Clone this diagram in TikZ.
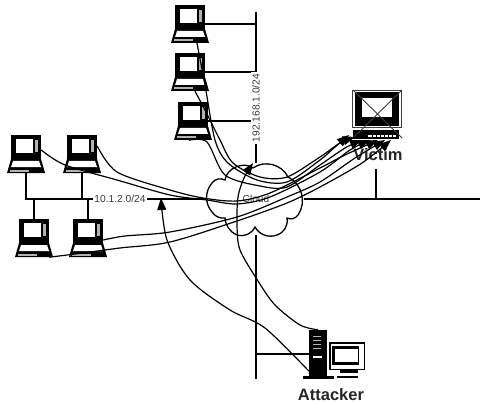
\documentclass[tikz,border=0pt]{standalone}
\usepackage{fontspec}
\setmainfont{Liberation Sans}
\usetikzlibrary{arrows.meta, calc}
\definecolor{dgray}{RGB}{60,60,60}

\tikzset{
  pics/laptop/.style={code={
    \fill[black] (-15,-19) rectangle (15,6);
    \fill[white] (-10,-15) rectangle (7,-1);
    \fill[gray!60] (9,-14) rectangle (12,-2);
    \fill[black] (-15,5) -- (15,5) -- (19,19) -- (-19,19) -- cycle;
    \fill[white] (-13,7) -- (13,7) -- (15,13) -- (-15,13) -- cycle;
    \fill[gray!60] (-16,15.5) rectangle (3,17.5);
  }}
}

\begin{document}
\begin{tikzpicture}[
  x=1pt, y=-1pt,
  pcbox/.style={minimum width=30pt, minimum height=38pt, inner sep=0pt},
  link/.style={line width=1.3pt, black},
  flow/.style={line width=1.2pt, black, -{Triangle[length=12pt,width=9pt]}},
  netlab/.style={fill=white, inner sep=1.5pt, font=\fontsize{10.2}{11}\selectfont, text=dgray},
  hostlab/.style={font=\fontsize{16.5}{17}\selectfont\bfseries, text=black!85}
]
\useasboundingbox (0,0) rectangle (480,404);

% hosts
\foreach \name/\x/\y in {top1/190/24, top2/190/72, top3/193/121,
                         lap1/26/154, lap2/82/154, lap3/34/238, lap4/88/238}{
  \node[pcbox] (\name) at (\x,\y) {};
  \pic at (\name) {laptop};
}
\node[minimum width=50pt, minimum height=50pt, inner sep=0pt] (victim) at (377,114) {};
\node[minimum width=18pt, minimum height=48pt, inner sep=0pt] (attacker) at (318,354) {};
\node[minimum width=96pt, minimum height=72pt, inner sep=0pt] (cloud) at (256,199) {};

% wires
\coordinate (topend) at (256,12);
\coordinate (rightend) at (480,199);
\coordinate (vtap) at (376,169);
\coordinate (botend) at (256,379);
\draw[link] (topend) -- (cloud.north);
\foreach \name in {top1,top2,top3}{
  \draw[link] (\name.east) -- (\name.east -| cloud.north);
}
\foreach \name in {lap1,lap2}{
  \draw[link] (\name.south) |- (cloud.west);
}
\foreach \name in {lap3,lap4}{
  \draw[link] (\name.north) |- (cloud.west);
}
\draw[link] (cloud.east) -- (rightend);
\draw[link] (vtap) -- (vtap |- cloud.east);
\draw[link] (cloud.south) -- (botend);
\draw[link] (attacker.west) -- (attacker.west -| cloud.south);

% cloud outline
\draw[link] (212,183) to[bend left=40] (225,180) to[bend left=60] (253,168)
  to[bend left=50] (288,177) to[bend left=50] (298,215) to[bend left=40] (287,218)
  to[bend left=40] (277,235) to[bend left=40] (255,227) to[bend left=40] (237,235)
  to[bend left=30] (225,218) to[bend left=30] (212,212) to[bend left=40] cycle;
\node[font=\fontsize{10.2}{11}\selectfont, text=dgray, inner sep=0pt] (cloudtxt) at (256,199) {Cloud};

\node[netlab, rotate=90] (topnet) at (256,108) {192.168.1.0/24};
\node[netlab] (leftnet) at (120,199) {10.1.2.0/24};

% victim
\fill[black] (355,92) rectangle (399,126);
\draw[dgray, line width=0.7pt] (352,90) rectangle (401,127);
\fill[white] (362,98) rectangle (392,117);
\fill[black] (353,130) rectangle (399,139);
\fill[white] (368,135) rectangle (396,137);
\foreach \x in {372,376,...,392}{ \fill[black] (\x,135) rectangle ++(1,2); }
\coordinate (va) at (353,90);
\coordinate (vb) at (402,138);
\coordinate (vc) at (402,90);
\coordinate (vd) at (353,138);
\draw[dgray, line width=0.9pt] (va) -- (vb) (vc) -- (vd);
\node[hostlab] (vlab) at (378,155) {Victim};

% attacker
\fill[black] (309,330) rectangle (327,378);
\fill[black] (303,376) rectangle (334,379);
\fill[white] (313,356) rectangle (322,358);
\foreach \y in {336,340,344,348}{ \fill[gray!60] (313,\y) rectangle ++(8,1); }
\fill[black] (329,342) rectangle (365,370);
\fill[white] (330.5,343.5) rectangle (363.5,368.5);
\fill[black] (332,346) rectangle (359,365);
\fill[white] (335,349) rectangle (358,362);
\fill[black] (340,370) rectangle (358,373);
\fill[black] (337,376) rectangle (358,378);
\node[hostlab] (alab) at (331,395) {Attacker};

% traffic
\draw[flow] plot[smooth, tension=0.5] coordinates {
  ([xshift=7pt]top1.south) (205,85) (215,140) (228,163) (257,180) (287,182) (320,160) (335,147) (349,135)};
\draw[flow] plot[smooth, tension=0.5] coordinates {
  ([xshift=5pt]top2.south) (205,110) (220,140) (233,163) (260,177) (287,177) (320,157) (340,143) (355,137)};
\draw[flow] plot[smooth, tension=0.5] coordinates {
  ([xshift=-4pt]top3.south) (207,142) (225,175) (260,186) (287,187) (320,165) (345,148) (362,140)};
\draw[flow] plot[smooth, tension=0.5] coordinates {
  ([yshift=4pt]lap1.east) (65,165) (117,180) (170,195) (207,200) (237,204) (270,197) (320,172) (350,150) (370,140)};
\draw[flow] plot[smooth, tension=0.5] coordinates {
  ([yshift=8pt]lap2.east) (117,172) (170,190) (203,198) (237,201) (270,193) (320,168) (345,155) (378,140)};
\draw[flow] plot[smooth, tension=0.5] coordinates {
  ([yshift=-2pt]lap4.east) (125,236) (170,232) (237,217) (287,197) (320,182) (355,158) (385,140)};
\draw[flow] plot[smooth, tension=0.5] coordinates {
  (lap3.south east) (75,254) (120,248) (170,242) (237,221) (287,203) (320,187) (362,163) (391,140)};
\draw[flow] plot[smooth, tension=0.5] coordinates {
  (attacker.north) (300,325) (275,305) (258,281) (240,250) (237,225) (238,197) (244,178) (253,163)};
\draw[flow] plot[smooth, tension=0.5] coordinates {
  ([yshift=-17pt]attacker.west) (265,328) (230,310) (190,280) (167,240) (161,198)};
\end{tikzpicture}
\end{document}
